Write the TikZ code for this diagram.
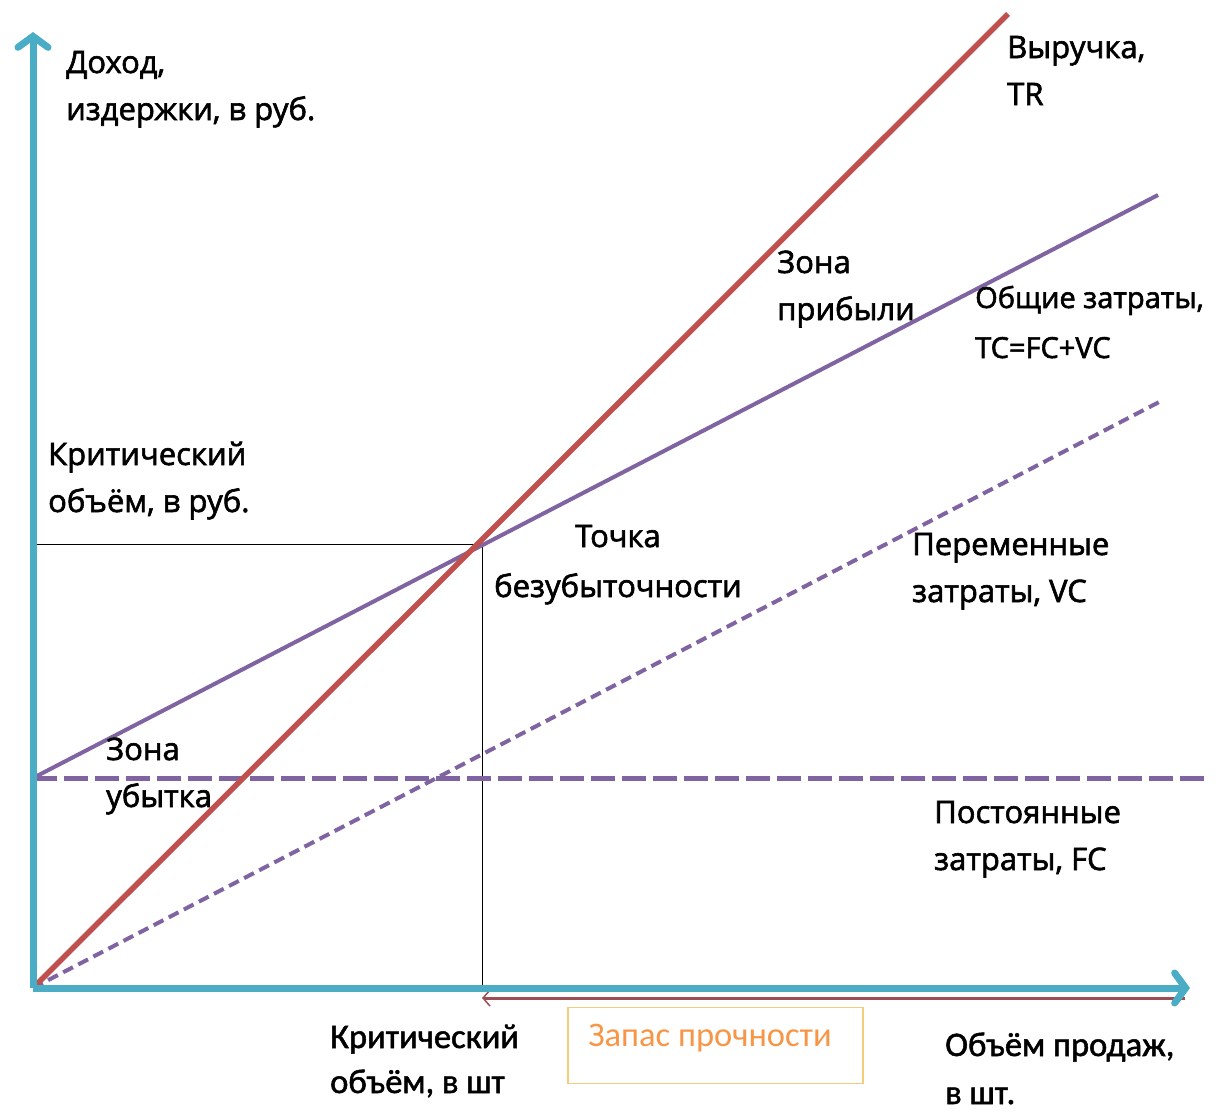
\documentclass[tikz,border=0pt]{standalone}
\usepackage{fontspec}
\setmainfont{Open Sans}
\newfontfamily\lblfont{Open Sans}[RawFeature={embolden=2}]
\newfontfamily\calib{Carlito}[RawFeature={embolden=1.5}]
\newfontfamily\calibo{Carlito}
\usetikzlibrary{arrows.meta}
\definecolor{axisc}{HTML}{4BACC6}
\definecolor{trc}{HTML}{C0504D}
\definecolor{tcc}{HTML}{8064A2}
\definecolor{mosc}{HTML}{9B4F55}
\definecolor{boxc}{HTML}{F5CD7A}
\definecolor{orc}{HTML}{F79646}
\tikzset{
  axisline/.style={axisc, line width=7pt, -{Straight Barb[length=11pt, width=30pt, line width=7pt, line cap=round]}},
  trline/.style={trc, line width=5.5pt},
  tcline/.style={tcc, line width=4pt},
  fcline/.style={tcc, line width=5pt, dash pattern=on 24pt off 7pt},
  vcline/.style={tcc, line width=4pt, dash pattern=on 11pt off 6pt},
  guide/.style={black, line width=1pt},
  lbl/.style={anchor=base west, font=\lblfont\fontsize{31}{47}\selectfont, inner sep=0pt, align=left},
  lblc/.style={anchor=base west, font=\calib\fontsize{34.5}{45}\selectfont, inner sep=0pt, align=left},
}
\begin{document}
\begin{tikzpicture}[x=1pt, y=-1pt]
\useasboundingbox (0,0) rectangle (1215,1111);
\coordinate (O) at (33,988);
\coordinate (F) at (33,778);
\coordinate (BE) at (482,544);
\coordinate (BEy) at (33,544);
\coordinate (BEx) at (482,988);
\coordinate (TRend) at (1008,14);
\coordinate (TCend) at (1158,195);
\coordinate (VCend) at (1163,400);
\coordinate (FCend) at (1205,778);
\coordinate (Ytip) at (33,32);
\coordinate (Xtip) at (1190,988);
\coordinate (Ms) at (1185,998);
\coordinate (Me) at (482,998);
% guides
\draw[guide] (BEy) -- (BE) -- (BEx);
% lines
\draw[fcline] (F) -- (FCend);
\draw[vcline] (O) -- (VCend);
\draw[tcline] (F) -- (TCend);
\draw[trline] (O) -- (TRend);
% margin of safety arrow
\draw[mosc, line width=3pt, -{Straight Barb[length=7pt, width=16pt, line width=1.5pt]}] (Ms) -- (Me);
% axes
\draw[axisline] (O) -- (Ytip);
\draw[axisline] (O) -- (Xtip);
% box
\node[draw=boxc, line width=1.5pt, minimum width=295pt, minimum height=76pt, inner sep=0pt] (box) at (715.5,1045.5) {};
\node[anchor=base, font=\calibo\fontsize{34.5}{40}\selectfont, text=orc, inner sep=0pt] (mos) at (710,1046) {Запас прочности};
% labels (anchored at the baseline of the last line)
\node[lbl] (ylab) at (66,120) {Доход,\\издержки, в руб.};
\node[lbl] (tr) at (1007,105) {Выручка,\\TR};
\node[lbl] (zp) at (777,320) {Зона\\прибыли};
\node[lbl, font=\lblfont\fontsize{29}{50}\selectfont] (tc) at (975,358) {Общие затраты,\\TC=FC+VC};
\node[lbl] (kr) at (48,512) {Критический\\объём, в руб.};
\node[lbl, align=center, font=\lblfont\fontsize{31}{50}\selectfont] (bep) at (494,597) {Точка\\безубыточности};
\node[lbl] (vc) at (912,602) {Переменные\\затраты, VC};
\node[lbl] (zu) at (106,807) {Зона\\убытка};
\node[lbl] (fc) at (934,870) {Постоянные\\затраты, FC};
\node[lblc] (kq) at (330,1093) {Критический\\объём, в шт};
\node[lblc, font=\calib\fontsize{34.5}{48}\selectfont] (xq) at (945,1104) {Объём продаж,\\в шт.};
\end{tikzpicture}
\end{document}
